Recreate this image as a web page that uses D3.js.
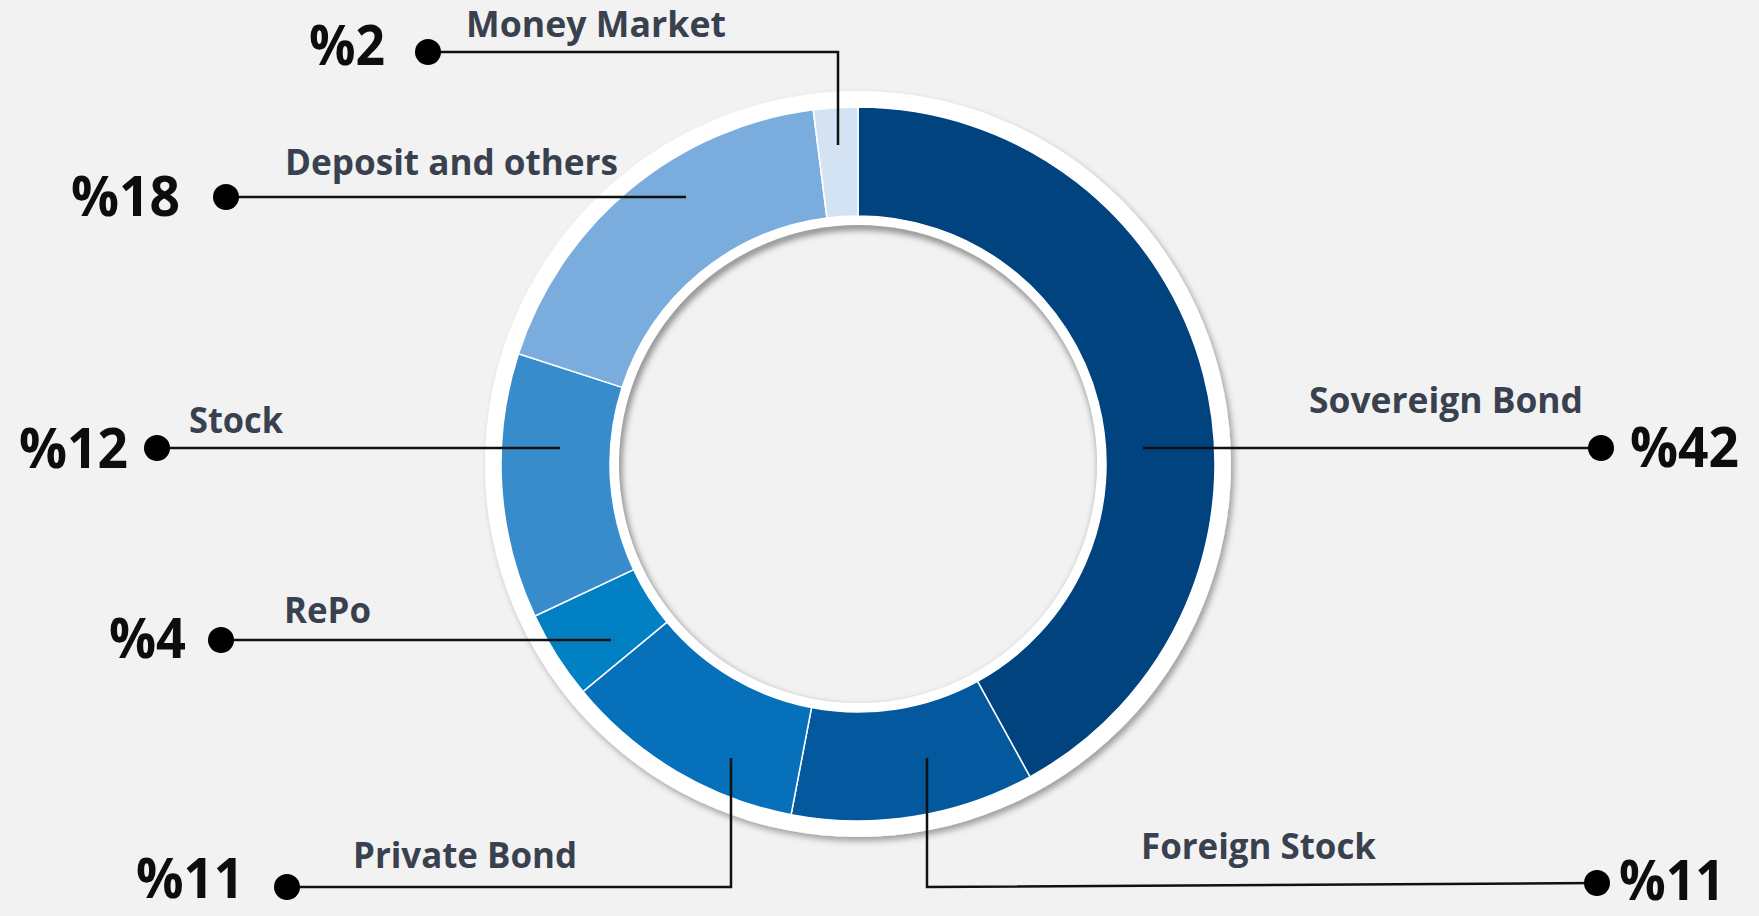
<!DOCTYPE html>
<html>
<head>
<meta charset="utf-8">
<script src="https://cdn.jsdelivr.net/npm/d3@7"></script>
<style>
  body { margin: 0; background: #f2f2f2; }
  svg { display: block; }
</style>
</head>
<body>
<svg id="chart"></svg>
<script>
// Portfolio breakdown (clockwise from 12 o'clock)
const categories = ["Sovereign Bond", "Foreign Stock", "Private Bond", "RePo", "Stock", "Deposit and others", "Money Market"];
const values = [42, 11, 11, 4, 12, 18, 2];
const pctLabels = values.map((v) => "%" + v);
const colors = ["#00437f", "#04589e", "#0670ba", "#0181c4", "#398ccb", "#7aaddd", "#d3e3f4"];

// callout layout: leader path, dot, percent text, category text
const callouts = [
  { path: [[1143, 448], [1601, 448]], dot: [1601, 448], pct: [1630, 467, 109], lab: [1309, 413, 274] },
  { path: [[927, 758], [927, 887], [1597, 883]], dot: [1597, 883], pct: [1619, 900, 106], lab: [1141, 859, 235] },
  { path: [[731, 758], [731, 887], [287, 887]], dot: [287, 887], pct: [136, 898, 108], lab: [353, 868, 224] },
  { path: [[611, 640], [221, 640]], dot: [221, 640], pct: [109, 658, 77], lab: [284, 623, 87] },
  { path: [[560, 448], [157, 448]], dot: [157, 448], pct: [19, 468, 109], lab: [189, 433, 94] },
  { path: [[686, 197], [226, 197]], dot: [226, 197], pct: [71, 216, 109], lab: [285, 175, 333] },
  { path: [[838, 145], [838, 52], [428, 52]], dot: [428, 52], pct: [309, 65, 76], lab: [466, 37, 260] }
];

const width = 1759,
  height = 916;
const cx = 858,
  cy = 464;
const rOuter = 357,
  rInner = 248,
  rRing = 373,
  rHole = 239;

const svg = d3.select("#chart").attr("width", width).attr("height", height);

const defs = svg.append("defs");

const drop = defs.append("filter").attr("id", "drop").attr("x", "-20%").attr("y", "-20%").attr("width", "140%").attr("height", "140%");
drop.append("feDropShadow").attr("dx", 3).attr("dy", 4).attr("stdDeviation", 3).attr("flood-color", "#000").attr("flood-opacity", 0.35);

const blur = defs.append("filter").attr("id", "blur").attr("x", "-20%").attr("y", "-20%").attr("width", "140%").attr("height", "140%");
blur.append("feGaussianBlur").attr("stdDeviation", 3);

defs.append("clipPath").attr("id", "holeClip")
  .append("circle").attr("cx", cx).attr("cy", cy).attr("r", rHole);

svg.append("rect").attr("width", width).attr("height", height).attr("fill", "#f2f2f2");

// outer white ring
svg.append("circle")
  .attr("cx", cx).attr("cy", cy).attr("r", rRing)
  .attr("fill", "#ffffff")
  .attr("filter", "url(#drop)");

// donut slices
const pie = d3.pie().sort(null).value((d) => d);
const arc = d3.arc().innerRadius(rInner).outerRadius(rOuter);

const g = svg.append("g").attr("transform", `translate(${cx},${cy})`);

g.selectAll("path")
  .data(pie(values))
  .enter()
  .append("path")
  .attr("d", arc)
  .attr("fill", (d, i) => colors[i])
  .attr("stroke", "#ffffff")
  .attr("stroke-width", 1.5);

// inner white band + hole with inner shadow
svg.append("circle").attr("cx", cx).attr("cy", cy).attr("r", rInner).attr("fill", "#ffffff");
svg.append("circle").attr("cx", cx).attr("cy", cy).attr("r", rHole).attr("fill", "#f2f2f2");
svg.append("g").attr("clip-path", "url(#holeClip)")
  .append("circle")
  .attr("cx", cx + 2).attr("cy", cy + 4).attr("r", rHole + 3)
  .attr("fill", "none")
  .attr("stroke", "#8a8a8a")
  .attr("stroke-width", 8)
  .attr("filter", "url(#blur)");

// leader lines
const line = d3.line();
svg.append("g")
  .selectAll("path")
  .data(callouts)
  .enter()
  .append("path")
  .attr("d", (d) => line(d.path))
  .attr("fill", "none")
  .attr("stroke", "#111")
  .attr("stroke-width", 2.5);

svg.append("g")
  .selectAll("circle")
  .data(callouts)
  .enter()
  .append("circle")
  .attr("cx", (d) => d.dot[0])
  .attr("cy", (d) => d.dot[1])
  .attr("r", 13)
  .attr("fill", "#000");

// category labels
svg.append("g")
  .selectAll("text")
  .data(callouts)
  .enter()
  .append("text")
  .attr("x", (d) => d.lab[0])
  .attr("y", (d) => d.lab[1])
  .attr("textLength", (d) => d.lab[2])
  .attr("lengthAdjust", "spacingAndGlyphs")
  .attr("font-family", "'Open Sans', 'Noto Sans', sans-serif")
  .attr("font-weight", 700)
  .attr("font-size", 36)
  .attr("fill", "#39414f")
  .text((d, i) => categories[i]);

// percentage labels
svg.append("g")
  .selectAll("text")
  .data(callouts)
  .enter()
  .append("text")
  .attr("x", (d) => d.pct[0])
  .attr("y", (d) => d.pct[1])
  .attr("textLength", (d) => d.pct[2])
  .attr("lengthAdjust", "spacingAndGlyphs")
  .attr("font-family", "'Open Sans', 'Noto Sans', sans-serif")
  .attr("font-weight", 700)
  .attr("font-size", 56)
  .attr("fill", "#0d0d0d")
  .text((d, i) => pctLabels[i]);
</script>
</body>
</html>
